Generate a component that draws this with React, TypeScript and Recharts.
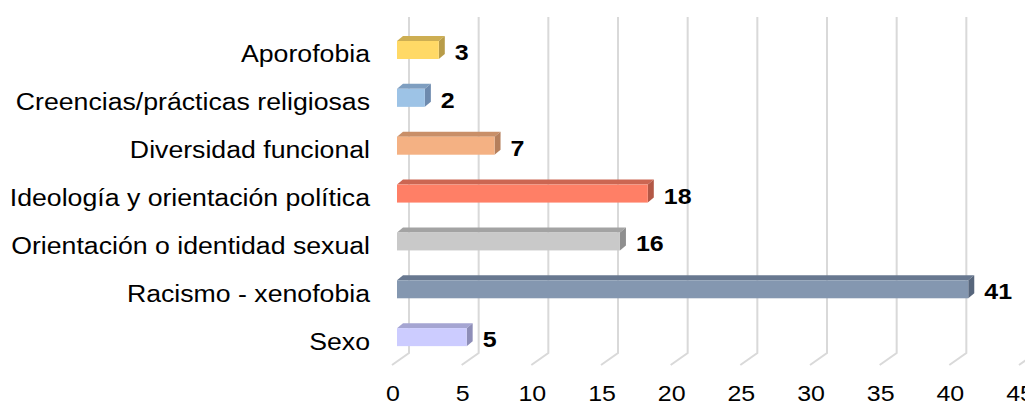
import React from 'react';
import { BarChart, Bar, XAxis, YAxis, CartesianGrid, LabelList } from 'recharts';

const categories = [
  'Aporofobia',
  'Creencias/prácticas religiosas',
  'Diversidad funcional',
  'Ideología y orientación política',
  'Orientación o identidad sexual',
  'Racismo - xenofobia',
  'Sexo',
];
const values = [3, 2, 7, 18, 16, 41, 5];
const frontColors = ['#FFD966', '#9DC3E6', '#F4B183', '#FF7F66', '#C9C9C9', '#8497B0', '#CCCCFF'];
const topColors = ['#CDAE52', '#7E9EC0', '#C98F68', '#CC6652', '#A3A3A3', '#687890', '#A5A5D2'];
const sideColors = ['#B89C48', '#6D8AAE', '#B57F5C', '#B35846', '#8F8F8F', '#57667C', '#8E8EB8'];
const xTicks = [0, 5, 10, 15, 20, 25, 30, 35, 40, 45];

const data = categories.map((name, i) => ({
  name,
  value: values[i],
  front: frontColors[i],
  top: topColors[i],
  side: sideColors[i],
}));

const FONT = '"Liberation Sans", Arial, sans-serif';
const SX = 1.11;
const SXL = 1.112;
const DX = 6;
const DY = 5;

const Bar3D = (props: any) => {
  const { x, y, width, height, payload } = props;
  if (width == null || height == null) return null;
  const w = Math.max(width, 0);
  return (
    <g>
      <polygon
        points={`${x},${y} ${x + w},${y} ${x + w + DX},${y - DY} ${x + DX},${y - DY}`}
        fill={payload.top}
      />
      <polygon
        points={`${x + w},${y} ${x + w + DX},${y - DY} ${x + w + DX},${y + height - DY} ${x + w},${y + height}`}
        fill={payload.side}
      />
      <rect x={x} y={y} width={w} height={height} fill={payload.front} />
    </g>
  );
};

const ValueLabel = (props: any) => {
  const { x, y, width, height, value } = props;
  const tx = x + width + 16;
  const ty = y + height / 2 + 10;
  return (
    <text
      transform={`translate(${tx},${ty}) scale(${SX},1)`}
      x={0}
      y={0}
      fontFamily={FONT}
      fontSize={22.5}
      fontWeight="bold"
      fill="#000"
      textAnchor="start"
    >
      {value}
    </text>
  );
};

const YTick = (props: any) => {
  const { x, y, payload } = props;
  const tx = x - 27;
  const ty = y + 12.5;
  return (
    <text
      transform={`translate(${tx},${ty}) scale(${SXL},1)`}
      x={0}
      y={0}
      fontFamily={FONT}
      fontSize={24}
      fill="#000"
      textAnchor="end"
    >
      {payload.value}
    </text>
  );
};

const XTick = (props: any) => {
  const { x, y, payload } = props;
  const tx = x - 4;
  const ty = y + 40;
  return (
    <text
      transform={`translate(${tx},${ty}) scale(${SX},1)`}
      x={0}
      y={0}
      fontFamily={FONT}
      fontSize={22.5}
      fill="#000"
      textAnchor="middle"
    >
      {payload.value}
    </text>
  );
};

const GridLine = (props: any) => {
  const { x1, y1, y2 } = props;
  const bx = x1 + 12;
  const topY = y1 - 9;
  const botY = y2 - 8;
  return (
    <path
      key={props.key}
      d={`M${bx},${topY} L${bx},${botY} L${x1 - 5},${y2 + 4}`}
      stroke="#D9D9D9"
      strokeWidth={2}
      fill="none"
    />
  );
};

export default function App() {
  return (
    <div style={{ position: 'absolute', left: 0, top: 0, width: 1025, height: 404, background: '#fff' }}>
      <BarChart
        width={1025}
        height={404}
        data={data}
        layout="vertical"
        margin={{ top: 26, right: 1, bottom: 0, left: 0 }}
      >
        <CartesianGrid horizontal={false} vertical={GridLine as any} />
        <XAxis
          type="number"
          domain={[0, 45]}
          ticks={xTicks}
          axisLine={false}
          tickLine={false}
          tickSize={0}
          tickMargin={0}
          height={43}
          tick={<XTick />}
          interval={0}
        />
        <YAxis
          type="category"
          dataKey="name"
          width={397}
          axisLine={false}
          tickLine={false}
          tickSize={0}
          tickMargin={0}
          tick={<YTick />}
          interval={0}
        />
        <Bar dataKey="value" barSize={18} shape={<Bar3D />} isAnimationActive={false}>
          <LabelList dataKey="value" content={<ValueLabel />} />
        </Bar>
      </BarChart>
    </div>
  );
}
